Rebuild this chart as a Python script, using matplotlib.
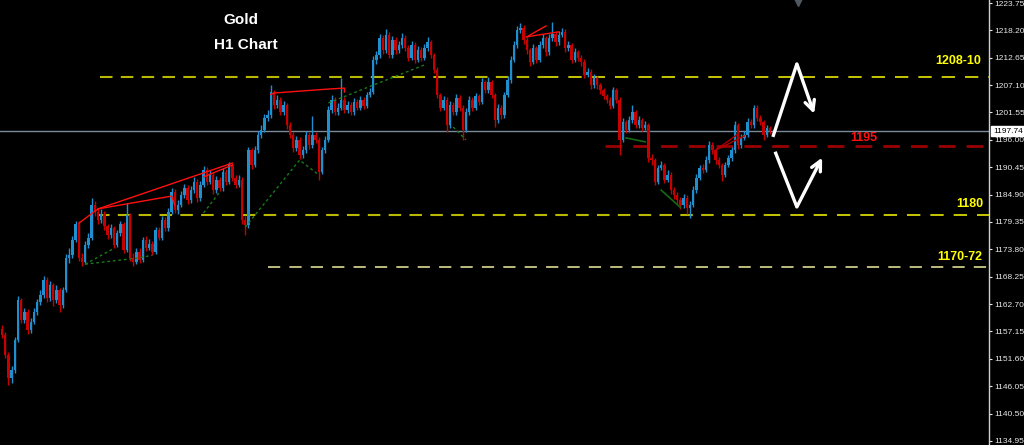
import matplotlib
matplotlib.use("Agg")
import matplotlib.pyplot as plt
import numpy as np

# hourly closes (open of each bar = previous close)
first_open = 1157.6
closes = [
    1156.5, 1152.4, 1147.7, 1149.3, 1155.4, 1163.5, 1159.5, 1161.1, 1157.4, 1159.1,
    1161.1, 1163.1, 1164.5, 1167.6, 1163.9, 1166.6, 1163.5, 1165.6, 1162.5, 1165.6,
    1172.0, 1172.6, 1175.7, 1178.9, 1172.0, 1171.2, 1174.7, 1176.1, 1182.8, 1181.4,
    1179.8, 1181.0, 1178.5, 1176.7, 1178.1, 1174.7, 1177.1, 1178.9, 1173.7, 1180.8,
    1172.0, 1171.2, 1173.3, 1171.6, 1175.7, 1174.1, 1174.9, 1173.3, 1177.7, 1176.1,
    1179.8, 1178.1, 1181.4, 1185.4, 1181.8, 1182.8, 1184.8, 1186.2, 1183.8, 1185.8,
    1187.5, 1184.2, 1186.9, 1189.9, 1187.5, 1188.9, 1185.8, 1187.9, 1186.2, 1189.5,
    1187.5, 1190.9, 1188.3, 1186.9, 1187.9, 1179.8, 1178.7, 1193.9, 1190.9, 1193.9,
    1197.0, 1198.0, 1200.4, 1201.0, 1205.7, 1203.0, 1204.1, 1201.6, 1203.0, 1199.0,
    1197.0, 1194.3, 1196.0, 1192.9, 1193.9, 1197.0, 1194.9, 1197.0, 1196.0, 1189.5,
    1193.9, 1196.0, 1202.0, 1204.1, 1201.6, 1202.5, 1204.1, 1202.0, 1203.1, 1201.6,
    1203.7, 1202.5, 1204.1, 1202.9, 1205.1, 1205.7, 1212.2, 1213.2, 1216.6, 1214.2,
    1217.3, 1213.2, 1216.2, 1214.2, 1215.2, 1216.6, 1214.6, 1212.6, 1215.2, 1212.2,
    1214.2, 1212.6, 1214.6, 1215.8, 1213.2, 1210.2, 1205.1, 1202.5, 1204.1, 1199.0,
    1203.1, 1201.6, 1204.5, 1202.5, 1198.0, 1201.6, 1204.1, 1202.5, 1204.9, 1203.7,
    1207.7, 1206.1, 1207.7, 1205.1, 1200.0, 1202.5, 1201.0, 1205.1, 1208.1, 1212.2,
    1215.2, 1218.3, 1218.7, 1216.2, 1214.2, 1211.8, 1214.6, 1212.2, 1215.2, 1216.6,
    1213.8, 1216.6, 1217.5, 1215.8, 1217.3, 1217.9, 1214.6, 1215.2, 1212.2, 1213.8,
    1212.6, 1211.8, 1209.2, 1209.8, 1207.1, 1208.5, 1207.1, 1206.1, 1204.9, 1204.1,
    1202.9, 1206.1, 1204.1, 1196.0, 1199.6, 1198.0, 1200.0, 1201.6, 1199.0, 1200.0,
    1198.4, 1199.0, 1192.3, 1191.9, 1187.5, 1190.3, 1190.9, 1187.9, 1188.9, 1185.8,
    1184.8, 1183.8, 1182.8, 1184.2, 1182.2, 1182.8, 1185.8, 1188.3, 1190.3, 1189.9,
    1191.9, 1194.9, 1193.9, 1191.9, 1190.9, 1188.9, 1190.9, 1192.3, 1193.9, 1199.0,
    1194.9, 1196.4, 1197.0, 1199.6, 1199.0, 1202.5, 1200.4, 1199.6, 1197.0, 1198.4,
    1197.7,
]
highs = [
    1158.4, 1157.0, 1153.0, 1150.2, 1156.0, 1164.3, 1164.0, 1162.0, 1161.8, 1159.8,
    1161.9, 1163.8, 1165.6, 1168.4, 1168.2, 1167.4, 1167.0, 1166.5, 1166.0, 1166.2,
    1172.8, 1174.0, 1176.5, 1179.6, 1179.5, 1173.0, 1175.5, 1177.2, 1184.2, 1183.6,
    1182.0, 1182.0, 1181.6, 1179.0, 1179.0, 1178.6, 1177.8, 1179.6, 1179.4, 1183.2,
    1181.2, 1173.0, 1174.0, 1174.0, 1176.4, 1176.6, 1175.8, 1175.4, 1178.4, 1178.4,
    1180.6, 1180.4, 1182.2, 1186.2, 1186.0, 1183.8, 1185.6, 1187.0, 1186.8, 1186.6,
    1188.4, 1188.0, 1187.6, 1190.8, 1190.4, 1189.8, 1189.4, 1188.6, 1188.4, 1190.3,
    1190.0, 1191.6, 1191.4, 1188.8, 1188.8, 1188.4, 1180.6, 1194.6, 1194.4, 1194.8,
    1197.8, 1199.0, 1201.2, 1202.0, 1207.1, 1206.2, 1205.0, 1204.6, 1203.8, 1203.5,
    1199.6, 1197.5, 1196.8, 1196.5, 1194.8, 1197.8, 1197.6, 1200.8, 1197.6, 1196.5,
    1194.6, 1196.8, 1202.8, 1205.0, 1204.6, 1203.4, 1208.6, 1204.6, 1203.8, 1203.6,
    1204.4, 1204.2, 1204.8, 1204.6, 1205.8, 1206.6, 1213.0, 1214.0, 1217.4, 1217.2,
    1218.4, 1217.8, 1217.0, 1216.8, 1216.0, 1217.6, 1217.2, 1215.2, 1216.0, 1215.8,
    1215.0, 1214.8, 1215.4, 1216.8, 1216.3, 1213.7, 1210.7, 1205.6, 1204.8, 1204.6,
    1203.8, 1203.6, 1205.2, 1205.0, 1203.0, 1202.4, 1204.8, 1204.6, 1205.6, 1205.4,
    1208.6, 1208.2, 1208.8, 1208.2, 1205.6, 1203.2, 1203.0, 1205.8, 1208.9, 1213.0,
    1216.0, 1219.0, 1219.6, 1219.2, 1216.8, 1214.7, 1215.4, 1215.1, 1216.0, 1217.4,
    1217.1, 1217.4, 1219.9, 1218.0, 1218.1, 1218.7, 1218.4, 1216.0, 1215.7, 1214.6,
    1214.3, 1213.2, 1212.3, 1210.6, 1210.3, 1209.3, 1209.0, 1207.6, 1206.6, 1205.4,
    1204.6, 1206.8, 1206.6, 1204.6, 1200.4, 1200.1, 1200.8, 1203.0, 1202.1, 1200.8,
    1200.5, 1199.8, 1199.5, 1193.2, 1192.4, 1191.0, 1191.8, 1191.4, 1189.8, 1189.4,
    1186.5, 1185.4, 1184.4, 1185.0, 1184.8, 1183.6, 1186.6, 1189.0, 1191.0, 1191.2,
    1192.8, 1195.8, 1195.5, 1194.4, 1192.6, 1191.4, 1191.6, 1193.0, 1194.6, 1199.8,
    1199.5, 1197.2, 1197.8, 1200.4, 1200.2, 1203.1, 1203.0, 1201.0, 1200.1, 1199.0,
    1198.8,
]
lows = [
    1155.9, 1151.8, 1146.3, 1146.8, 1148.8, 1155.0, 1158.8, 1158.9, 1156.6, 1156.9,
    1158.6, 1160.5, 1162.6, 1164.0, 1163.2, 1163.4, 1162.4, 1163.0, 1161.0, 1162.0,
    1165.2, 1171.0, 1172.0, 1175.2, 1171.4, 1170.4, 1170.8, 1174.0, 1175.6, 1180.6,
    1179.0, 1179.2, 1177.8, 1176.0, 1176.2, 1174.0, 1174.2, 1176.6, 1173.0, 1173.2,
    1171.4, 1170.5, 1170.8, 1171.0, 1171.2, 1173.5, 1173.6, 1172.6, 1172.9, 1175.6,
    1175.7, 1177.6, 1177.6, 1180.9, 1181.2, 1181.0, 1182.3, 1184.3, 1183.0, 1183.3,
    1185.3, 1183.5, 1183.7, 1186.4, 1186.8, 1187.0, 1185.0, 1185.3, 1185.6, 1185.7,
    1186.8, 1187.0, 1187.6, 1186.2, 1186.4, 1179.0, 1176.7, 1178.2, 1190.0, 1190.4,
    1193.4, 1196.4, 1197.5, 1199.8, 1200.5, 1202.3, 1202.5, 1201.0, 1201.0, 1198.3,
    1196.3, 1193.6, 1193.8, 1192.2, 1192.3, 1193.4, 1194.2, 1194.4, 1195.4, 1187.9,
    1189.0, 1193.4, 1195.5, 1201.5, 1201.0, 1201.0, 1202.0, 1201.4, 1201.5, 1201.0,
    1201.1, 1202.0, 1202.0, 1202.3, 1202.4, 1204.6, 1205.2, 1211.4, 1212.7, 1213.5,
    1213.7, 1212.5, 1212.7, 1213.5, 1213.7, 1214.7, 1214.0, 1212.0, 1212.1, 1211.5,
    1211.7, 1212.0, 1212.1, 1214.1, 1212.5, 1209.5, 1204.4, 1201.8, 1202.0, 1197.6,
    1198.5, 1201.0, 1201.1, 1201.8, 1196.0, 1197.5, 1201.1, 1201.8, 1202.0, 1203.0,
    1203.2, 1205.5, 1205.6, 1204.4, 1198.6, 1199.5, 1200.3, 1200.5, 1204.6, 1207.6,
    1211.7, 1214.7, 1217.6, 1215.5, 1213.5, 1211.0, 1211.3, 1211.5, 1211.7, 1214.7,
    1213.1, 1213.3, 1216.0, 1215.1, 1215.3, 1216.8, 1213.9, 1214.0, 1211.5, 1211.7,
    1212.0, 1211.0, 1208.5, 1208.7, 1206.4, 1206.6, 1206.4, 1205.4, 1204.2, 1203.4,
    1202.2, 1202.4, 1203.4, 1193.0, 1195.5, 1197.3, 1197.5, 1199.5, 1198.4, 1198.5,
    1197.8, 1197.9, 1191.6, 1191.0, 1186.8, 1187.0, 1189.8, 1187.2, 1187.4, 1185.1,
    1184.1, 1183.0, 1182.0, 1182.2, 1181.0, 1180.2, 1182.3, 1185.3, 1187.8, 1189.2,
    1189.4, 1191.4, 1193.2, 1191.2, 1190.2, 1187.6, 1188.4, 1190.4, 1191.8, 1193.4,
    1194.2, 1194.4, 1195.9, 1196.5, 1198.4, 1198.5, 1199.8, 1199.0, 1196.0, 1196.5,
    1197.2,
]

# support / resistance levels and the bar where each starts
lvl_top, lvl_top_start = 1208.75, 30.6
lvl_mid, lvl_mid_start = 1194.75, 188.5
lvl_180, lvl_180_start = 1180.77, 29.7
lvl_170, lvl_170_start = 1170.22, 83.1
bid = 1197.74

# trendlines drawn on the chart: bar index / price anchors
red_lines = [
    ([24, 30], [1179.1, 1182.0]),
    ([30, 72], [1182.0, 1191.3]),
    ([30, 53, 54], [1182.0, 1184.6, 1182.8]),
    ([63, 72], [1188.5, 1190.9]),
    ([84, 85, 102, 107, 107], [1205.2, 1205.5, 1206.3, 1206.5, 1205.7]),
    ([164, 170], [1216.9, 1219.1]),
    ([164, 174], [1216.9, 1217.9]),
]
dark_red_lines = [
    ([223, 230], [1193.9, 1197.2]),
    ([223, 232], [1193.9, 1196.8]),
]
green_dotted = [
    ([26, 35], [1170.8, 1174.0]),
    ([26, 42, 47], [1170.8, 1172.0, 1172.6]),
    ([63, 68], [1181.2, 1185.4]),
    ([76, 93, 99], [1178.3, 1191.9, 1188.9]),
    ([102, 132], [1203.5, 1211.2]),
    ([141, 145], [1198.6, 1196.0]),
]
green_solid = [
    ([195, 201], [1196.4, 1195.6]),
    ([206, 212], [1185.8, 1182.3]),
]
# scenario arrows
up_path = ([240.9, 248.4, 253.8], [1196.6, 1211.4, 1201.3])
down_path = ([241.6, 248.4, 256.3], [1193.6, 1182.4, 1192.4])

ticks = [1223.75, 1218.20, 1212.65, 1207.10, 1201.55, 1196.00, 1190.45, 1184.90,
         1179.35, 1173.80, 1168.25, 1162.70, 1157.15, 1151.60, 1146.05, 1140.50, 1134.95]

bull = "#1f8fcf"
bear = "#c80000"

fig = plt.figure(figsize=(10.24, 4.45), dpi=100, facecolor="black")
ax = fig.add_axes([0, 0, 989 / 1024, 1], facecolor="black")

idx = np.arange(len(closes))
opens = np.array([first_open] + closes[:-1])
cl = np.array(closes)
cols = [bull if c >= o else bear for o, c in zip(opens, cl)]
ax.vlines(idx, lows, highs, colors=cols, linewidth=1, zorder=3)
body = np.maximum(np.abs(cl - opens), 0.15)
ax.bar(idx, body, bottom=np.minimum(opens, cl), width=0.8, color=cols, linewidth=0, zorder=3)

xmax = 308.44
# levels
ax.hlines(bid, -1, xmax, colors="#7a8a9a", linewidth=1, zorder=2)
ax.hlines(lvl_top, lvl_top_start, 169.8, colors="#b8b800", linewidth=1.5, linestyles=(0, (6, 4)), zorder=2)
ax.hlines(lvl_top, 169.8, xmax, colors="#e8e800", linewidth=1.2, linestyles=(0, (8, 6)), zorder=2)
ax.hlines(lvl_mid, lvl_mid_start, xmax, colors="#9a0000", linewidth=2, linestyles=(0, (6, 4)), zorder=2)
ax.hlines(lvl_180, lvl_180_start, 239, colors="#b8b800", linewidth=1.5, linestyles=(0, (6, 4)), zorder=2)
ax.hlines(lvl_180, 239, xmax, colors="#e8e800", linewidth=1.2, linestyles=(0, (8, 6)), zorder=2)
ax.hlines(lvl_170, lvl_170_start, xmax, colors="#f0f0a0", linewidth=1.1, linestyles=(0, (8, 6)), zorder=2)

for xs, ys in red_lines:
    ax.plot(xs, ys, color="#ff1010", linewidth=1, zorder=4)
for xs, ys in dark_red_lines:
    ax.plot(xs, ys, color="#b00000", linewidth=1, zorder=4)
for xs, ys in green_dotted:
    ax.plot(xs, ys, color="#1a7a1a", linewidth=1, linestyle=(0, (2, 2)), zorder=4)
for xs, ys in green_solid:
    ax.plot(xs, ys, color="#146a14", linewidth=1.2, zorder=4)

for xs, ys in (up_path, down_path):
    ax.plot(xs[:2], ys[:2], color="white", linewidth=2.4, solid_capstyle="butt", zorder=5)
    ax.annotate("", xy=(xs[2], ys[2]), xytext=(xs[1], ys[1]),
                arrowprops=dict(arrowstyle="->,head_length=0.7,head_width=0.35",
                                color="white", lw=2.4, shrinkA=0, shrinkB=0), zorder=5)

# level labels
lab = dict(fontweight="bold", fontsize=9, ha="center", va="center", family="Liberation Sans")
ax.text(298.8, 1211.96, "1208-10", color="#ffff00", **lab)
ax.text(269.4, 1196.4, "1195", color="#ff1010", **lab)
ax.text(302.5, 1183.0, "1180", color="#ffff00", **lab)
ax.text(299.4, 1172.3, "1170-72", color="#ffff00", **lab)

fig.text(241 / 1024, 1 - 20 / 445, "Gold", color="white", fontsize=11, fontweight="bold",
         ha="center", va="center", family="Liberation Sans")
fig.text(246 / 1024, 1 - 45 / 445, "H1 Chart", color="white", fontsize=11, fontweight="bold",
         ha="center", va="center", family="Liberation Sans")

ax.set_xlim(-0.625, xmax)
ax.set_ylim(1134.13, 1224.36)
ax.set_xticks([])
ax.yaxis.tick_right()
ax.set_yticks(ticks)
ax.set_yticklabels([f"{t:.2f}" for t in ticks], family="Liberation Sans")
ax.tick_params(axis="y", colors="#e8e8e8", labelsize=6, length=2.5, width=0.8, pad=1.2, direction="out")
for s in ["top", "bottom", "left"]:
    ax.spines[s].set_visible(False)
ax.spines["right"].set_color("#d0d0d0")
ax.spines["right"].set_linewidth(1)

# current price box on the axis
ax.text(1.004, bid, f"{bid:.2f}", transform=ax.get_yaxis_transform(), color="black",
        fontsize=6, ha="left", va="center", family="Liberation Sans",
        bbox=dict(boxstyle="square,pad=0.2", facecolor="white", edgecolor="white"), zorder=6)
# chart shift marker
ax.plot([248.6], [1224.0], marker="v", markersize=6, color="#505860", clip_on=False, zorder=6)

fig.savefig("out.png", dpi=100, facecolor="black")
